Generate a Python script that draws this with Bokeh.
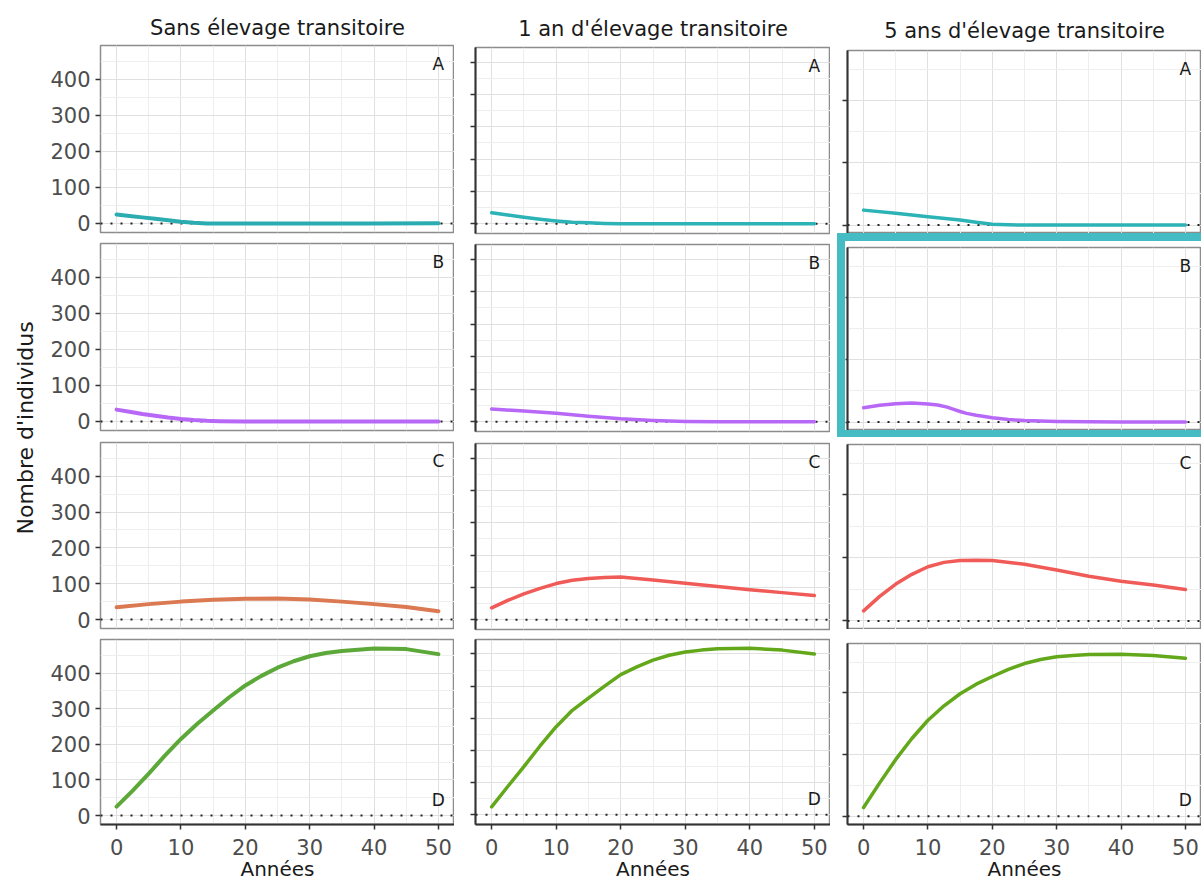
import math
from bokeh.plotting import figure
from bokeh.layouts import row, column
from bokeh.models import FixedTicker, Span, Label, Spacer, CustomLabelingPolicy
from bokeh.embed import file_html
from bokeh.resources import INLINE
from bokeh.core.properties import value

# ---------------- data ----------------
col_titles = ["Sans élevage transitoire", "1 an d'élevage transitoire", "5 ans d'élevage transitoire"]
row_letters = ["A", "B", "C", "D"]
x_ticks = [0, 10, 20, 30, 40, 50]
x_minor = [5, 15, 25, 35, 45]

# Column 1 : sans élevage transitoire
sans_A_x = [0, 2, 4, 6, 8, 10, 12, 14, 20, 30, 40, 50]
sans_A_y = [25, 21, 17, 13, 9, 5, 2, 0, 0, 0, 0, 1]
sans_B_x = [0, 2, 4, 6, 8, 10, 12, 14, 16, 20, 30, 40, 50]
sans_B_y = [33, 27, 21, 16, 11, 7, 4, 2, 1, 0, 0, 0, 0]
sans_C_x = [0, 5, 10, 15, 20, 25, 30, 35, 40, 45, 50]
sans_C_y = [34, 43, 50, 55, 58, 59, 56, 50, 43, 35, 23]
sans_D_x = [0, 2.5, 5, 7.5, 10, 12.5, 15, 17.5, 20, 22.5, 25, 27.5, 30, 32.5, 35, 40, 45, 50]
sans_D_y = [25, 70, 118, 168, 215, 257, 295, 332, 365, 392, 415, 433, 447, 456, 462, 469, 467, 453]

# Column 2 : 1 an d'élevage transitoire
un_A_x = [0, 2.5, 5, 7.5, 10, 12.5, 15, 17.5, 20, 25, 30, 40, 50]
un_A_y = [34, 27, 20, 14, 9, 5, 3, 1, 0, 0, 0, 0, 0]
un_B_x = [0, 5, 10, 15, 20, 25, 30, 35, 40, 50]
un_B_y = [39, 33, 26, 17, 9, 4, 1, 0, 0, 0]
un_C_x = [0, 2.5, 5, 7.5, 10, 12.5, 15, 17.5, 20, 25, 30, 35, 40, 45, 50]
un_C_y = [37, 60, 80, 97, 112, 122, 128, 131, 132, 123, 113, 103, 93, 84, 75]
un_D_x = [0, 2.5, 5, 7.5, 10, 12.5, 15, 17.5, 20, 22.5, 25, 27.5, 30, 32.5, 35, 40, 45, 50]
un_D_y = [25, 88, 150, 214, 274, 325, 363, 400, 436, 460, 481, 496, 506, 512, 516, 518, 512, 500]

# Column 3 : 5 ans d'élevage transitoire
cinq_A_x = [0, 5, 10, 15, 17.5, 20, 22.5, 25, 30, 40, 50]
cinq_A_y = [48, 38, 27, 16, 9, 3, 1, 0, 0, 0, 0]
cinq_B_x = [0, 2.5, 5, 7.5, 10, 11.5, 13, 14, 15, 16, 17.5, 20, 22.5, 25, 30, 40, 50]
cinq_B_y = [46, 54, 59, 61, 58, 55, 48, 41, 34, 28, 22, 14, 8, 5, 2, 0, 0]
cinq_C_x = [0, 2.5, 5, 7.5, 10, 12.5, 15, 17.5, 20, 25, 30, 35, 40, 45, 50]
cinq_C_y = [32, 78, 117, 148, 172, 186, 192, 193, 192, 180, 162, 142, 126, 114, 100]
cinq_D_x = [0, 2.5, 5, 7.5, 10, 12.5, 15, 17.5, 20, 22.5, 25, 27.5, 30, 32.5, 35, 40, 45, 50]
cinq_D_y = [28, 108, 184, 252, 311, 358, 397, 428, 453, 476, 495, 508, 517, 521, 524, 525, 521, 512]

y_ticks_cols = [[0, 100, 200, 300, 400], [0, 100, 200, 300, 400, 500], [0, 200, 400]]
y_minor_cols = [[50, 150, 250, 350, 450], [50, 150, 250, 350, 450], [100, 300, 500]]

series = [
    [(sans_A_x, sans_A_y), (sans_B_x, sans_B_y), (sans_C_x, sans_C_y), (sans_D_x, sans_D_y)],
    [(un_A_x, un_A_y), (un_B_x, un_B_y), (un_C_x, un_C_y), (un_D_x, un_D_y)],
    [(cinq_A_x, cinq_A_y), (cinq_B_x, cinq_B_y), (cinq_C_x, cinq_C_y), (cinq_D_x, cinq_D_y)],
]

# ---------------- styles / layout ----------------
row_colors = ["#2BB3B6", "#B868F6", "#F15B57", "#63A81A"]
col1_colors = ["#2BACB0", "#B868F6", "#DB7A52", "#5CA838"]
HILITE = "#45BCC4"

layout_cfg = [
    dict(y_range=(-25, 494), labels=True, left=60, fw=354,
         tops=[45, 6, 7, 6], frames=[187, 187, 186, 187], bottoms=[5, 5, 5, 57], standoff=12),
    dict(y_range=(-30, 545), labels=False, left=21, fw=355,
         tops=[47, 6, 7, 5], frames=[186, 187, 186, 187], bottoms=[5, 5, 5, 57], standoff=14),
    dict(y_range=(-27, 560), labels=False, left=17, fw=354,
         tops=[50, 6, 7, 14], frames=[183, 183, 185, 183], bottoms=[0, 0, 0, 57], standoff=15),
]

FONT = "DejaVu Sans"
TXT = "#1A1A1A"
TICK_TXT = "#4D4D4D"
NO_LABELS = CustomLabelingPolicy(code="const idx = [...indices]; for (const i of idx) indices.unset(i); return indices")


def make_panel(ci, ri, left=None, tick_out=5):
    cfg = layout_cfg[ci]
    left = cfg["left"] if left is None else left
    W = left + cfg["fw"]
    H = cfg["tops"][ri] + cfg["frames"][ri] + cfg["bottoms"][ri]
    p = figure(width=W, height=H, x_range=(-2.5, 52.5), y_range=cfg["y_range"],
               output_backend="svg", toolbar_location=None,
               x_axis_location="below" if ri == 3 else None,
               y_axis_location="left",
               min_border_left=left, min_border_right=0,
               min_border_top=cfg["tops"][ri], min_border_bottom=cfg["bottoms"][ri],
               title=col_titles[ci] if ri == 0 else None)
    p.background_fill_color = "white"
    p.border_fill_color = "white"
    p.outline_line_color = "#8C8C8C"
    p.outline_line_width = 1.5

    if ri == 0:
        t = p.title
        t.align = "center"
        t.text_font = FONT
        t.text_font_size = "21px"
        t.text_font_style = "normal"
        t.text_color = TXT
        t.standoff = cfg["standoff"]

    # grids
    p.xgrid.ticker = FixedTicker(ticks=x_ticks, minor_ticks=x_minor)
    p.ygrid.ticker = FixedTicker(ticks=y_ticks_cols[ci], minor_ticks=y_minor_cols[ci])
    for g in (p.xgrid[0], p.ygrid[0]):
        g.grid_line_color = "#E0E0E0"
        g.grid_line_width = 1
        g.minor_grid_line_color = "#EEEEEE"
        g.minor_grid_line_width = 1

    # y axis
    ya = p.yaxis[0]
    ya.ticker = FixedTicker(ticks=y_ticks_cols[ci])
    ya.minor_tick_line_color = None
    ya.major_tick_in = 0
    ya.major_tick_out = tick_out
    ya.major_tick_line_color = "#333333"
    ya.major_tick_line_width = 1.5
    if cfg["labels"]:
        ya.axis_line_color = None
        ya.major_label_text_font = FONT
        ya.major_label_text_font_size = "21px"
        ya.major_label_text_color = TICK_TXT
        ya.major_label_standoff = 5
    else:
        ya.axis_line_color = "#333333"
        ya.axis_line_width = 2
        ya.major_label_text_font_size = "0px"
        ya.major_label_standoff = 0
        ya.major_label_policy = NO_LABELS

    # x axis (bottom row only)
    if ri == 3:
        xa = p.xaxis[0]
        xa.ticker = FixedTicker(ticks=x_ticks)
        xa.minor_tick_line_color = None
        xa.major_tick_in = 0
        xa.major_tick_out = 5
        xa.major_tick_line_color = "#333333"
        xa.major_tick_line_width = 1.5
        xa.axis_line_color = "#333333"
        xa.axis_line_width = 2
        xa.major_label_text_font = FONT
        xa.major_label_text_font_size = "21px"
        xa.major_label_text_color = TICK_TXT
        xa.major_label_standoff = 9
        xa.axis_label = "Années"
        xa.axis_label_text_font = FONT
        xa.axis_label_text_font_size = "20px"
        xa.axis_label_text_font_style = "normal"
        xa.axis_label_text_color = TXT
        xa.axis_label_standoff = -1

    # dotted zero line
    span = Span(location=0, dimension="width", line_color="#222222", line_width=2,
                line_dash="2 8", level="underlay")
    p.add_layout(span)

    xs, ys = series[ci][ri]
    color = col1_colors[ri] if ci == 0 else row_colors[ri]
    p.line(xs, ys, line_color=color, line_width=4 if ci == 0 else 3.5,
           line_join="round", line_cap="round")

    # panel letter
    if ri < 3:
        lab = Label(x=50, y=cfg["y_range"][1], y_offset=-18, text=row_letters[ri])
    else:
        lab = Label(x=50, y=0, y_offset=16, text=row_letters[ri])
    lab.text_align = "center"
    lab.text_baseline = "middle"
    lab.text_font = FONT
    lab.text_font_size = "17px"
    lab.text_color = TXT
    p.add_layout(lab)
    return p


def band(w, h):
    return Spacer(width=w, height=h, sizing_mode="fixed",
                  styles={"background-color": HILITE})


columns = []
for ci in range(2):
    figs = [make_panel(ci, ri) for ri in range(4)]
    columns.append(column(figs, spacing=0))

# column 3, with the highlighted panel B
c3A = make_panel(2, 0)
c3B = make_panel(2, 1, left=2, tick_out=2)
c3C = make_panel(2, 2)
c3D = make_panel(2, 3)
hb_top = row([Spacer(width=7, height=8), band(364, 8)], spacing=0)
hb_mid = row([Spacer(width=7, height=189), band(8, 189), c3B], spacing=0)
hb_bot = row([Spacer(width=7, height=7), band(364, 7)], spacing=0)
columns.append(column([c3A, hb_top, hb_mid, hb_bot, c3C, c3D], spacing=0))

# y-axis title figure
total_h = sum(layout_cfg[0]["tops"]) + sum(layout_cfg[0]["frames"]) + sum(layout_cfg[0]["bottoms"])
ylab = figure(width=40, height=total_h, x_range=(0, 1), y_range=(0, 1),
              output_backend="svg", toolbar_location=None,
              x_axis_location=None, y_axis_location=None,
              min_border_left=0, min_border_right=0, min_border_top=0, min_border_bottom=0)
ylab.outline_line_color = None
ylab.grid.visible = False
ylab.text(x=[0.635], y=[0.516], text=["Nombre d'individus"], angle=math.pi / 2,
          text_align="center", text_baseline="middle",
          text_font=value(FONT), text_font_size="22px", text_color=TXT)

layout = row([ylab] + columns, spacing=0)

open("out.html", "w").write(file_html(layout, INLINE))
